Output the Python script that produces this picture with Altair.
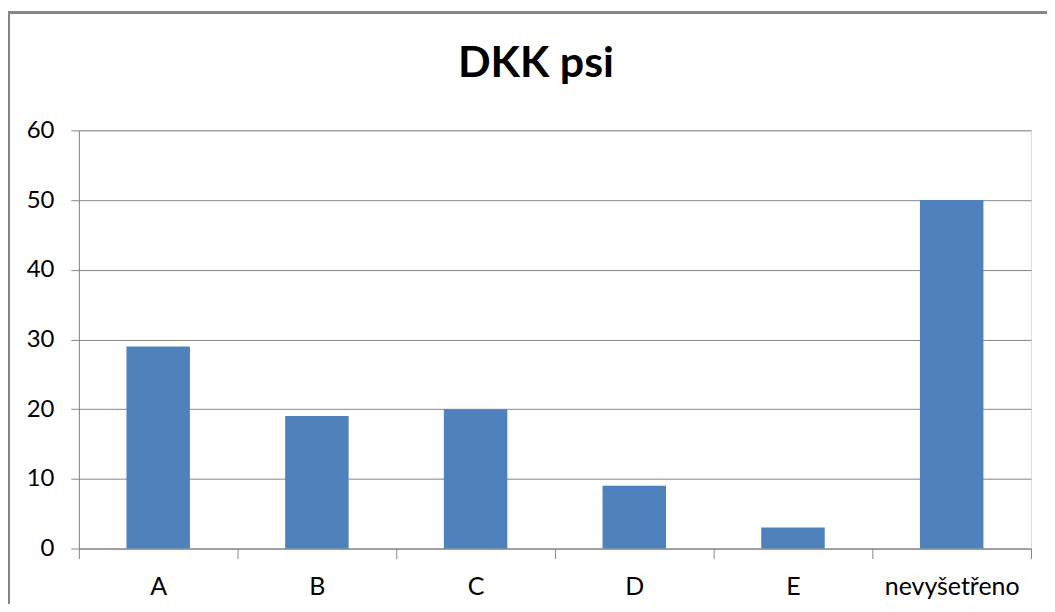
import altair as alt
import pandas as pd

categories = ["A", "B", "C", "D", "E", "nevyšetřeno"]
values = [29, 19, 20, 9, 3, 50]
y_ticks = [0, 10, 20, 30, 40, 50, 60]
title_text = ["DKK psi"]

df = pd.DataFrame({"cat": categories, "val": values})
title_df = pd.DataFrame({"t": title_text})

W, H = 954, 419
FONT = "Lato"
GRAY = "#868686"

bars = alt.Chart(df).mark_bar(color="#4F81BD", width=alt.RelativeBandSize(0.4)).encode(
    x=alt.X(
        "cat:N",
        sort=categories,
        title=None,
        scale=alt.Scale(paddingInner=0, paddingOuter=0),
        axis=alt.Axis(
            labelAngle=0,
            tickBand="extent",
            tickSize=10,
            tickColor=GRAY,
            domainColor=GRAY,
            labelFont=FONT,
            labelFontSize=25,
            labelColor="#000000",
            labelPadding=16,
            grid=False,
        ),
    ),
    y=alt.Y(
        "val:Q",
        title=None,
        scale=alt.Scale(domain=[0, 60], nice=False),
        axis=alt.Axis(
            values=y_ticks,
            tickSize=8,
            tickColor=GRAY,
            domainColor=GRAY,
            gridColor=GRAY,
            labelFont=FONT,
            labelFontSize=24,
            labelColor="#000000",
            labelPadding=17,
        ),
    ),
)

title_mark = alt.Chart(title_df).mark_text(
    font=FONT, fontSize=43, fontWeight="bold", color="#000000",
    align="center", baseline="alphabetic",
).encode(text="t:N", x=alt.value(458), y=alt.value(-53))

border_top = alt.Chart(df).mark_rule(color=GRAY, strokeWidth=2).encode(
    x=alt.value(-70), x2=alt.value(W + 40), y=alt.value(-118)
)
border_left = alt.Chart(df).mark_rule(color=GRAY, strokeWidth=2).encode(
    x=alt.value(-70), y=alt.value(-119), y2=alt.value(H + 80)
)

chart = (
    alt.layer(bars, title_mark, border_top, border_left)
    .properties(
        width=W,
        height=H,
        padding={"left": 71, "top": 122, "right": 16, "bottom": 55},
        autosize=alt.AutoSizeParams(type="none"),
    )
    .configure_view(strokeWidth=0)
    .configure(background="white")
)

chart.save("out.html", embed_options={"renderer": "svg", "actions": False})
